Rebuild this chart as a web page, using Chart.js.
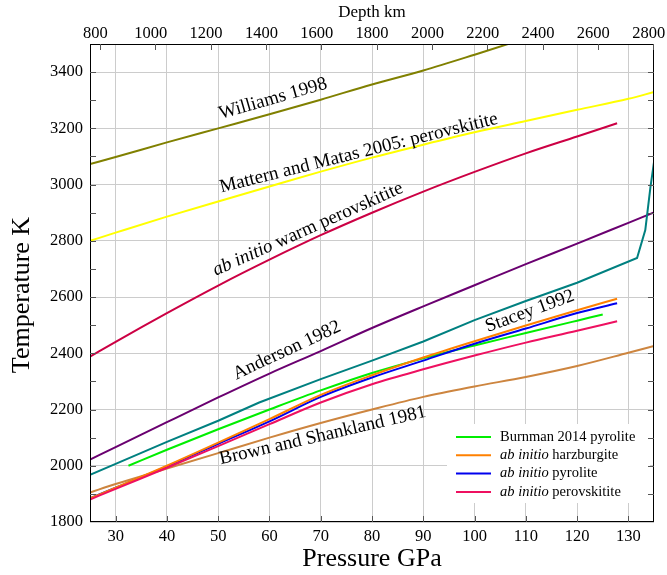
<!DOCTYPE html>
<html>
<head>
<meta charset="utf-8">
<script src="https://cdn.jsdelivr.net/npm/chart.js@4.4.0/dist/chart.umd.min.js"></script>
<style>
  html, body { margin: 0; padding: 0; background: #fff; }
</style>
</head>
<body>
<canvas id="geotherm" width="667" height="575"></canvas>
<script>
// axis ticks
const pressureTicks = [30, 40, 50, 60, 70, 80, 90, 100, 110, 120, 130];
const tempTicks = [1800, 2000, 2200, 2400, 2600, 2800, 3000, 3200, 3400];
const tempMinorTicks = [1900, 2100, 2300, 2500, 2700, 2900, 3100, 3300];
const depthTicks = [800, 1000, 1200, 1400, 1600, 1800, 2000, 2200, 2400, 2600, 2800];

// geotherms, pressure (GPa) / temperature (K)
const williamsP = [25, 30, 40, 50, 60, 70, 80, 90, 100, 110];
const williamsT = [3073, 3098, 3150, 3200, 3250, 3302, 3356, 3406, 3462, 3520];
const matternP = [25, 30, 40, 50, 60, 70, 80, 90, 100, 110, 120, 130, 135];
const matternT = [2800, 2829, 2886, 2940, 2993, 3046, 3096, 3142, 3186, 3226, 3266, 3305, 3329];
const warmP = [25, 30, 40, 50, 60, 70, 80, 90, 100, 110, 120, 127.8];
const warmT = [2388, 2441, 2543, 2641, 2733, 2820, 2900, 2975, 3045, 3111, 3171, 3218];
const andersonP = [25, 30, 40, 50, 60, 70, 80, 90, 100, 110, 120, 130, 135];
const andersonT = [2022, 2066, 2155, 2243, 2328, 2408, 2490, 2567, 2642, 2717, 2790, 2864, 2901];
const staceyP = [25, 30, 40, 50, 58, 70, 80, 90, 100, 110, 120, 131.7, 133.3, 134.3, 135];
const staceyT = [1968, 2007, 2085, 2160, 2225, 2308, 2374, 2442, 2518, 2586, 2651, 2739, 2838, 2990, 3080];
const brownP = [25, 30, 40, 50, 60, 70, 80, 90, 100, 110, 120, 130, 135];
const brownT = [1905, 1935, 1990, 2045, 2100, 2152, 2200, 2245, 2282, 2316, 2355, 2402, 2426];
const burnmanP = [32.5, 40, 50, 60, 70, 80, 90, 100, 110, 120, 125];
const burnmanT = [2000, 2057, 2130, 2200, 2268, 2330, 2382, 2428, 2472, 2516, 2538];
const abInitioP = [25, 30, 40, 50, 60, 70, 80, 90, 100, 110, 120, 127.8];
const harzburgiteT = [1884, 1922, 2000, 2082, 2166, 2252, 2322, 2385, 2443, 2499, 2553, 2594];
const pyroliteT = [1884, 1922, 1998, 2078, 2158, 2245, 2314, 2374, 2434, 2488, 2543, 2578];
const perovskititeT = [1880, 1918, 1993, 2070, 2148, 2225, 2290, 2343, 2392, 2438, 2480, 2514];

const serif = "'Liberation Serif', 'DejaVu Serif', serif";

function toPoints(ps, ts) {
  return ps.map((p, i) => ({ x: p, y: ts[i] }));
}

function curve(label, ps, ts, color, sharp) {
  return {
    label: label,
    data: toPoints(ps, ts),
    borderColor: color,
    borderWidth: 2,
    pointRadius: 0,
    fill: false,
    tension: sharp ? 0 : 0.4,
    cubicInterpolationMode: sharp ? 'default' : 'monotone'
  };
}

const datasets = [
  curve('ab initio perovskitite', abInitioP, perovskititeT, '#ee1060'),
  curve('ab initio harzburgite', abInitioP, harzburgiteT, '#ff8000'),
  curve('ab initio pyrolite', abInitioP, pyroliteT, '#0000ee'),
  curve('Burnman 2014 pyrolite', burnmanP, burnmanT, '#00ee00'),
  curve('Brown and Shankland 1981', brownP, brownT, '#cd853f'),
  curve('Stacey 1992', staceyP, staceyT, '#008080', true),
  curve('Anderson 1982', andersonP, andersonT, '#6a0070'),
  curve('ab initio warm perovskitite', warmP, warmT, '#cc0044'),
  curve('Mattern and Matas 2005', matternP, matternT, '#ffff00'),
  curve('Williams 1998', williamsP, williamsT, '#808000')
];

// text written along the curves: [parts, pressure, temperature, angle]
const curveLabels = [
  [[['Williams 1998', false]], 60.7, 3305, -16],
  [[['Mattern and Matas 2005: perovskitite', false]], 77.4, 3112, -14],
  [[['ab initio', true], [' warm perovskitite', false]], 67.5, 2841, -24],
  [[['Anderson 1982', false]], 63.4, 2410, -25],
  [[['Stacey 1992', false]], 110.8, 2549, -20],
  [[['Brown and Shankland 1981', false]], 70.4, 2107, -13]
];

const legendRows = [
  [[['Burnman 2014 pyrolite', false]], '#00ee00'],
  [[['ab initio', true], [' harzburgite', false]], '#ff8000'],
  [[['ab initio', true], [' pyrolite', false]], '#0000ee'],
  [[['ab initio', true], [' perovskitite', false]], '#ee1060']
];

function drawParts(ctx, parts, size, x, y, align) {
  let total = 0;
  parts.forEach(([t, it]) => {
    ctx.font = (it ? 'italic ' : '') + size + 'px ' + serif;
    total += ctx.measureText(t).width;
  });
  let cx = align === 'center' ? x - total / 2 : x;
  parts.forEach(([t, it]) => {
    ctx.font = (it ? 'italic ' : '') + size + 'px ' + serif;
    ctx.fillText(t, cx, y);
    cx += ctx.measureText(t).width;
  });
}

const decorations = {
  id: 'decorations',
  afterDatasetsDraw(chart) {
    const { ctx, chartArea: a, scales } = chart;
    const x = scales.x, y = scales.y, x2 = scales.x2;
    ctx.save();

    // curve labels
    ctx.fillStyle = '#000';
    ctx.textAlign = 'left';
    ctx.textBaseline = 'middle';
    curveLabels.forEach(([parts, p, t, ang]) => {
      ctx.save();
      ctx.translate(x.getPixelForValue(p), y.getPixelForValue(t));
      ctx.rotate(ang * Math.PI / 180);
      drawParts(ctx, parts, 19, 0, 0, 'center');
      ctx.restore();
    });

    // legend
    const lx = 456, ly = 437, row = 18.3;
    ctx.fillStyle = '#fff';
    ctx.fillRect(lx - 9, ly - 13, 203, 79);
    legendRows.forEach(([parts, color], i) => {
      const yy = ly + i * row;
      ctx.strokeStyle = color;
      ctx.lineWidth = 2;
      ctx.beginPath();
      ctx.moveTo(lx, yy);
      ctx.lineTo(lx + 35, yy);
      ctx.stroke();
      ctx.fillStyle = '#000';
      drawParts(ctx, parts, 14.5, lx + 44, yy, 'left');
    });

    // frame and inward ticks
    ctx.strokeStyle = '#000';
    ctx.lineWidth = 1;
    ctx.strokeRect(a.left + 0.5, a.top + 0.5, a.right - a.left - 1, a.bottom - a.top - 1);
    ctx.strokeStyle = '#555';
    ctx.beginPath();
    pressureTicks.forEach(v => {
      const px = Math.round(x.getPixelForValue(v)) + 0.5;
      ctx.moveTo(px, a.bottom); ctx.lineTo(px, a.bottom - 6);
    });
    depthTicks.forEach(v => {
      const px = Math.round(x2.getPixelForValue(v)) + 0.5;
      ctx.moveTo(px, a.top); ctx.lineTo(px, a.top + 6);
    });
    tempTicks.concat(tempMinorTicks).forEach(v => {
      if (v <= 1800 || v >= 3500) return;
      const py = Math.round(y.getPixelForValue(v)) + 0.5;
      ctx.moveTo(a.left, py); ctx.lineTo(a.left + 6, py);
      ctx.moveTo(a.right, py); ctx.lineTo(a.right - 6, py);
    });
    ctx.stroke();

    // temperature axis title
    ctx.fillStyle = '#000';
    ctx.font = '26px ' + serif;
    ctx.textAlign = 'center';
    ctx.textBaseline = 'middle';
    ctx.translate(22, 295);
    ctx.rotate(-Math.PI / 2);
    ctx.fillText('Temperature K', 0, 0);
    ctx.restore();
  }
};

const tickFont = { family: serif, size: 16.5 };
const plain = v => String(v);

new Chart(document.getElementById('geotherm'), {
  type: 'line',
  data: { datasets: datasets },
  options: {
    responsive: false,
    animation: false,
    layout: { padding: { right: 13, left: 0, top: 0, bottom: 0 } },
    plugins: { legend: { display: false }, tooltip: { enabled: false } },
    scales: {
      x: {
        type: 'linear',
        position: 'bottom',
        min: 25,
        max: 135,
        afterBuildTicks: s => { s.ticks = pressureTicks.map(v => ({ value: v })); },
        afterFit: s => { s.height = 53; s.paddingLeft = 0; s.paddingRight = 0; },
        grid: { color: '#cccccc', drawTicks: false },
        border: { display: false },
        ticks: { font: tickFont, color: '#000', padding: 5, maxRotation: 0, autoSkip: false, callback: plain },
        title: { display: true, text: 'Pressure GPa', color: '#000', font: { family: serif, size: 26 }, padding: { top: 0, bottom: 0 } }
      },
      x2: {
        type: 'linear',
        position: 'top',
        min: 764,
        max: 2803,
        afterBuildTicks: s => { s.ticks = depthTicks.map(v => ({ value: v })); },
        afterFit: s => { s.height = 44; s.paddingLeft = 0; s.paddingRight = 0; },
        grid: { display: false, drawTicks: false },
        border: { display: false },
        ticks: { font: tickFont, color: '#000', padding: 0, labelOffset: -4.5, maxRotation: 0, autoSkip: false, callback: plain },
        title: { display: true, text: 'Depth km', color: '#000', font: { family: serif, size: 17 }, padding: { top: 2, bottom: 0 } }
      },
      y: {
        min: 1800,
        max: 3500,
        afterBuildTicks: s => { s.ticks = tempTicks.map(v => ({ value: v })); },
        afterFit: s => { s.width = 90; },
        grid: { color: '#cccccc', drawTicks: false },
        border: { display: false },
        ticks: { font: tickFont, color: '#000', padding: 7, callback: plain }
      }
    }
  },
  plugins: [decorations]
});
</script>
</body>
</html>
